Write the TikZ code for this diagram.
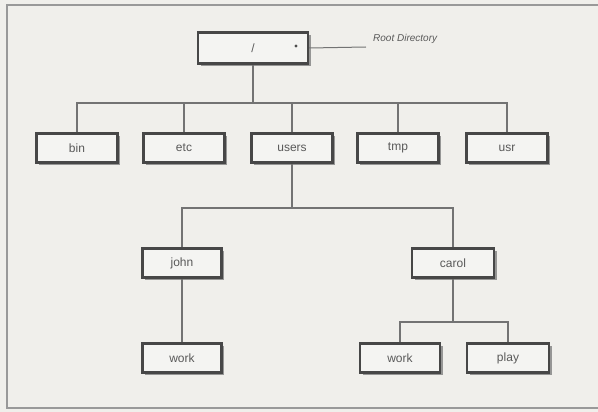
\documentclass[tikz,border=0pt]{standalone}
\usepackage{fontspec}
\setmainfont{Liberation Sans}
\usetikzlibrary{shadows}
\definecolor{paper}{RGB}{240,239,235}
\definecolor{boxfill}{RGB}{244,244,242}
\tikzset{
  >=latex,
}
\tikzstyle{every node}=[font=\fontsize{12}{14}\selectfont]
\tikzstyle{dirbox}=[draw=black!72,line width=2.2pt,fill=boxfill,minimum width=81pt,minimum height=29pt,inner sep=0pt,text=black!65,
  drop shadow={shadow xshift=2.5pt,shadow yshift=-2.5pt,fill=black!50,opacity=.8}]
\tikzstyle{branch}=[draw=black!55,line width=1.8pt]
\tikzstyle{tagtext}=[font=\fontsize{10}{12}\selectfont\itshape,text=black!65,inner sep=1pt]

\begin{document}
\begin{tikzpicture}[x=1pt,y=-1pt]
    \useasboundingbox (0,0) rectangle (598,412);
    \fill[paper] (0,0) rectangle (598,412);
    \draw[black!40,line width=2.5pt] (600,5) -- (7,5) -- (7,408) -- (600,408);
    % root
    \node[dirbox,minimum width=110pt,minimum height=31pt] (root) at (253,48) {/};
    \node[circle,fill=black!70,inner sep=1.2pt] (dot) at (296,46) {};
    \coordinate (tagend) at (366,47);
    \node[tagtext,anchor=west] (tag) at (372,39) {Root Directory};
    \draw[branch,line width=1pt] (root.east) -- (tagend);
    % first level
    \node[dirbox] (bin) at (77,148) {bin};
    \node[dirbox] (etc) at (184,148) {etc};
    \node[dirbox] (users) at (292,148) {users};
    \node[dirbox] (tmp) at (398,148) {tmp};
    \node[dirbox] (usr) at (507,148) {usr};
    \coordinate (bus1) at (253,103);
    \draw[branch] (root) -- (bus1);
    \draw[branch] (bin.north) |- (bus1) -| (usr.north);
    \foreach \d in {etc,users,tmp}
      \draw[branch] (\d.north) -- (\d.north |- bus1);
    % users
    \node[dirbox,minimum width=79pt] (john) at (182,263) {john};
    \node[dirbox,minimum width=82pt] (carol) at (453,263) {carol};
    \coordinate (bus2) at (292,208);
    \draw[branch] (users) -- (bus2);
    \draw[branch] (john.north) |- (bus2) -| (carol.north);
    % homes
    \node[dirbox,minimum width=79pt] (jwork) at (182,358) {work};
    \node[dirbox,minimum width=80pt] (cwork) at (400,358) {work};
    \node[dirbox,minimum width=82pt] (play) at (508,358) {play};
    \draw[branch] (john) -- (jwork);
    \coordinate (bus3) at (453,322);
    \draw[branch] (carol) -- (bus3);
    \draw[branch] (cwork.north) |- (bus3) -| (play.north);
  \end{tikzpicture}
\end{document}
